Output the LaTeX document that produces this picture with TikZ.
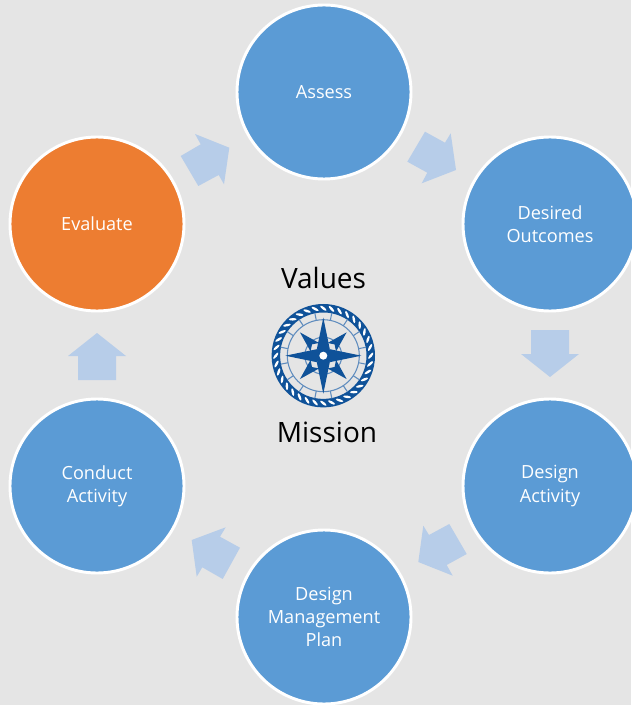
\documentclass[tikz,border=0pt]{standalone}
\usepackage{fontspec}
\setmainfont{Open Sans}
\definecolor{bgc}{HTML}{E5E5E5}
\definecolor{bluec}{HTML}{5B9BD5}
\definecolor{orangec}{HTML}{ED7D31}
\definecolor{arrowc}{HTML}{B7CDE9}
\definecolor{navy}{HTML}{0F5299}
\definecolor{softnavy}{HTML}{5F8CBE}
\tikzset{
  stage/.style={circle,draw=white,line width=2.2pt,fill=bluec,minimum size=130.5pt,inner sep=0pt,align=center,text=white,font=\fontsize{13.6pt}{17.4pt}\selectfont},
  stagehot/.style={stage,fill=orangec},
  flow/.style={fill=arrowc,draw=none},
  caption/.style={font=\fontsize{21pt}{24pt}\selectfont,text=black,inner sep=0pt},
  cline/.style={draw=softnavy,line width=0.8pt},
  cfill/.style={fill=navy,draw=none}
}
\begin{document}
\begin{tikzpicture}[x=0.75pt,y=-0.75pt]
\useasboundingbox (0,0) rectangle (631,705);
\fill[bgc] (0,0) rectangle (631,705);
\node[stage] (assess) at (324,92) {Assess};
\node[stage] (desired) at (550,224) {Desired\\Outcomes};
\node[stage] (activity) at (550,486) {Design\\Activity};
\node[stage] (plan) at (324,617) {Design\\Management\\Plan};
\node[stage] (conduct) at (97,486) {Conduct\\Activity};
\node[stagehot] (evaluate) at (97,224) {Evaluate};
% flow arrows
\fill[flow] (425,131.7)--(445,142.7)--(450.7,133.3)--(456,170)--(421.7,183.3)--(427.3,172.7)--(407.3,161.7)--cycle;
\fill[flow] (531,330)--(569,330)--(569,354)--(579,354)--(550,377)--(521,354)--(531,354)--cycle;
\fill[flow] (449.3,524)--(466.7,554)--(446.7,565)--(452.7,575.7)--(418.3,562)--(423.3,525.7)--(429,535)--cycle;
\fill[flow] (225.7,527.3)--(220,536.7)--(240,547.7)--(222.7,579)--(202.3,567.3)--(196.7,576.7)--(191.7,540)--cycle;
\fill[flow] (78,380)--(116,380)--(116,356)--(126,356)--(97,333)--(68,356)--(78,356)--cycle;
\fill[flow] (195,134)--(229.3,147.7)--(224,184.3)--(218.7,175)--(198.3,186)--(180.7,156)--(200.7,144.3)--cycle;
% captions
\node[caption] (values) at (323.5,278) {Values};
\node[caption] (mission) at (327,432) {Mission};
% compass
\begin{scope}[shift={(323.3,355.7)}]
  \fill[navy,even odd rule] (0,0) circle (51.7) (0,0) circle (43.2);
  \foreach \a in {0,10,...,350}{
    \fill[white,rotate=\a] (47.5,0) ellipse [x radius=1.25,y radius=3.9,rotate=-38];
  }
  \draw[cline] (0,0) circle (36);
  \draw[cline] (0,0) circle (18.5);
  \foreach \a in {11.25,33.75,...,348.75}{
    \draw[cline] (\a:36) -- (\a:43.5);
  }
  \foreach \a in {45,135,225,315}{
    \fill[cfill,rotate=\a] (12,-6) -- (33,0) -- (12,6) -- (16,0) -- cycle;
  }
  \foreach \a in {0,90,180,270}{
    \fill[cfill,rotate=\a] (6.5,-6.5) -- (38,0) -- (6.5,6.5) -- (0,0) -- cycle;
  }
  \fill[cfill] (0,0) circle (8);
  \fill[white] (0,0) circle (4);
\end{scope}
\end{tikzpicture}
\end{document}
